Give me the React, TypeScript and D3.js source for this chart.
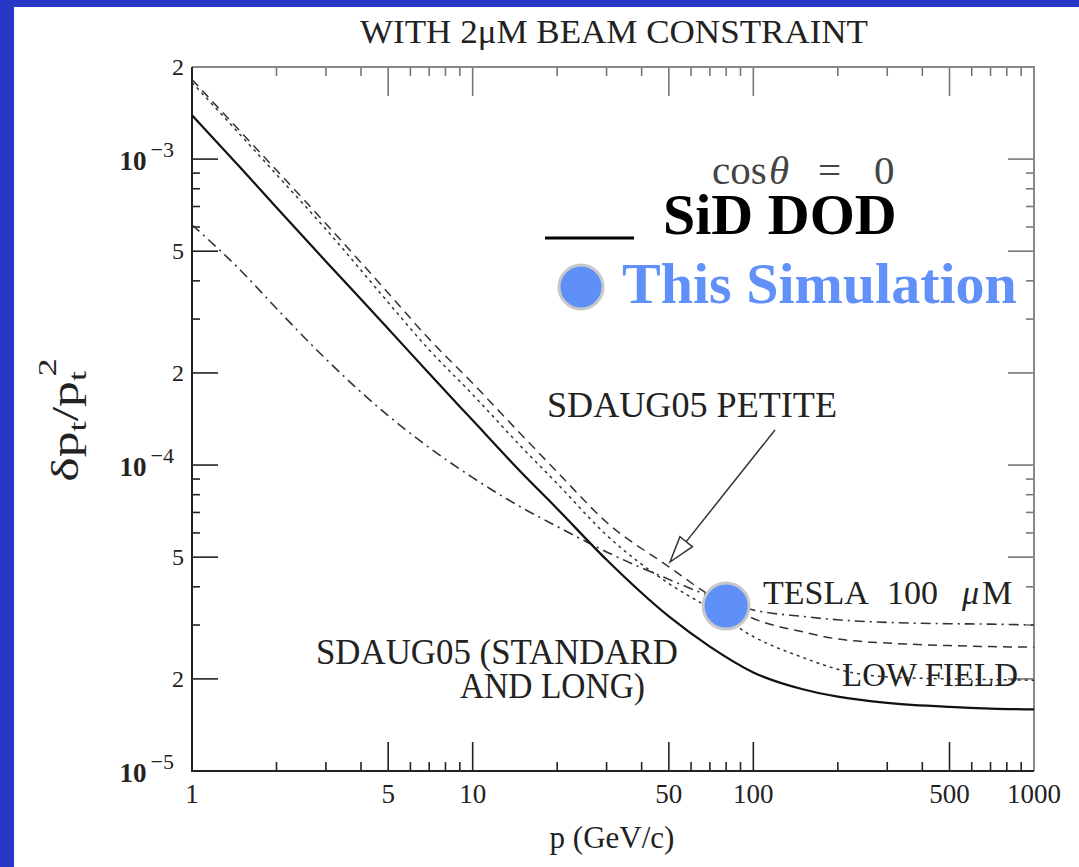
import { useEffect, useRef } from 'react';
import * as d3 from 'd3';

// momentum grid (GeV/c) that all curves were read on
const pGrid = [1, 1.5, 2, 3, 5, 7, 10, 15, 20, 30, 50, 70, 100, 150, 200, 300, 500, 700, 1000];

// dpt/pt^2
const standardRes = [1.39e-3, 9.3e-4, 6.95e-4, 4.63e-4, 2.79e-4, 1.99e-4, 1.4e-4, 9.4e-5, 7.2e-5, 4.9e-5, 3.2e-5, 2.55e-5, 2.1e-5, 1.85e-5, 1.75e-5, 1.67e-5, 1.62e-5, 1.6e-5, 1.59e-5];
const petiteRes = [1.82e-3, 1.22e-3, 9.2e-4, 6.15e-4, 3.65e-4, 2.58e-4, 1.85e-4, 1.25e-4, 9.5e-5, 6.5e-5, 4.65e-5, 3.75e-5, 3.15e-5, 2.85e-5, 2.7e-5, 2.62e-5, 2.57e-5, 2.55e-5, 2.54e-5];
const lowFieldRes = [1.78e-3, 1.19e-3, 8.9e-4, 5.9e-4, 3.4e-4, 2.38e-4, 1.7e-4, 1.14e-4, 8.7e-5, 5.9e-5, 4.1e-5, 3.4e-5, 2.75e-5, 2.35e-5, 2.15e-5, 2.03e-5, 2.0e-5, 1.99e-5, 1.98e-5];
const teslaRes = [6.1e-4, 4.3e-4, 3.25e-4, 2.22e-4, 1.45e-4, 1.14e-4, 9.1e-5, 7.25e-5, 6.3e-5, 5.2e-5, 4.23e-5, 3.73e-5, 3.36e-5, 3.2e-5, 3.12e-5, 3.06e-5, 3.03e-5, 3.02e-5, 3.0e-5];

// this simulation
const simP = [80];
const simRes = [3.46e-5];

// axis labels
const xTickValues = [1, 5, 10, 50, 100, 500, 1000];
const xTickLabels = ['1', '5', '10', '50', '100', '500', '1000'];
const yTickValues = [2e-3, 1e-3, 5e-4, 2e-4, 1e-4, 5e-5, 2e-5, 1e-5];
const yTickMant = ['2', '10', '5', '2', '10', '5', '2', '10'];
const yTickExp = ['', '−3', '', '', '−4', '', '', '−5'];

const serif = '"Liberation Serif", "DejaVu Serif", serif';

export default function App() {
  const svgRef = useRef<SVGSVGElement>(null);

  useEffect(() => {
    const svg = d3.select(svgRef.current);
    svg.selectAll('*').remove();

    const W = 1079;
    const H = 867;
    const left = 192, right = 1034, top = 67, bottom = 771;

    // slide background
    svg.append('rect').attr('width', W).attr('height', H).attr('fill', '#2737c6');
    svg.append('rect').attr('x', 14).attr('y', 7).attr('width', W - 14).attr('height', H - 7).attr('fill', '#fff');

    const x = d3.scaleLog().domain([1, 1000]).range([left, right]);
    const y = d3.scaleLog().domain([1e-5, 2e-3]).range([bottom, top]);

    // ticks
    const xMinor: number[] = [];
    [1, 10, 100].forEach((d) => d3.range(1, 10).forEach((k) => xMinor.push(k * d)));
    xMinor.push(1000);
    const yMinor: number[] = [];
    [1e-5, 1e-4, 1e-3].forEach((d) => d3.range(1, 10).forEach((k) => yMinor.push(k * d)));
    const yTicks = yMinor.filter((v) => v <= 2.0001e-3);

    const lead = (v: number) => Math.round(v / Math.pow(10, Math.floor(Math.log10(v) + 1e-9)));

    const tg = svg.append('g').attr('stroke-width', 1.6);
    xMinor.forEach((v) => {
      const k = lead(v);
      const len = k === 1 || k === 5 ? 29 : 9;
      tg.append('line').attr('x1', x(v)).attr('x2', x(v)).attr('y1', bottom).attr('y2', bottom - len).attr('stroke', '#222');
      tg.append('line').attr('x1', x(v)).attr('x2', x(v)).attr('y1', top).attr('y2', top + len).attr('stroke', '#777');
    });
    yTicks.forEach((v) => {
      const k = lead(v);
      const len = k === 1 || k === 2 || k === 5 ? 26 : 8;
      tg.append('line').attr('x1', left).attr('x2', left + len).attr('y1', y(v)).attr('y2', y(v)).attr('stroke', '#222');
      tg.append('line').attr('x1', right).attr('x2', right - len).attr('y1', y(v)).attr('y2', y(v)).attr('stroke', '#777');
    });

    // frame
    svg.append('path').attr('d', `M${left},${top}H${right}V${bottom}`).attr('fill', 'none').attr('stroke', '#888').attr('stroke-width', 2);
    svg.append('path').attr('d', `M${left},${top}V${bottom}H${right}`).attr('fill', 'none').attr('stroke', '#222').attr('stroke-width', 2);

    // tick labels
    svg.append('g').selectAll('text').data(xTickValues).enter().append('text')
      .attr('x', (d) => x(d)).attr('y', 803).attr('text-anchor', 'middle')
      .attr('font-family', serif).attr('font-size', 27).attr('fill', '#222')
      .text((_, i) => xTickLabels[i]);

    yTickValues.forEach((v, i) => {
      const t = svg.append('text').attr('font-family', serif).attr('fill', '#222').attr('text-anchor', 'end');
      if (yTickExp[i]) {
        t.attr('x', 174).attr('y', y(v) + 11).attr('font-size', 27);
        t.append('tspan').attr('font-weight', 'bold').text(yTickMant[i]);
        t.append('tspan').attr('font-size', 22).attr('dy', -13).attr('dx', 4).text(yTickExp[i]);
      } else {
        t.attr('x', 184).attr('y', y(v) + 8).attr('font-size', 24).text(yTickMant[i]);
      }
    });

    // curves
    const line = d3.line<number>()
      .x((_, i) => x(pGrid[i]))
      .y((d) => y(d))
      .curve(d3.curveMonotoneX);

    const plot = svg.append('g').attr('fill', 'none');
    plot.append('path').attr('d', line(teslaRes)).attr('stroke', '#333').attr('stroke-width', 1.6).attr('stroke-dasharray', '10,5,2,5');
    plot.append('path').attr('d', line(lowFieldRes)).attr('stroke', '#333').attr('stroke-width', 1.5).attr('stroke-dasharray', '3,4');
    plot.append('path').attr('d', line(petiteRes)).attr('stroke', '#333').attr('stroke-width', 1.5).attr('stroke-dasharray', '9,6');
    plot.append('path').attr('d', line(standardRes)).attr('stroke', '#111').attr('stroke-width', 2.2);

    // simulation point
    svg.append('g').selectAll('circle').data(simP).enter().append('circle')
      .attr('cx', (d) => x(d)).attr('cy', (_, i) => y(simRes[i])).attr('r', 23)
      .attr('fill', '#5f8ff8').attr('stroke', '#c8c8c8').attr('stroke-width', 3);

    // annotations
    const label = (txt: string, xx: number, yy: number, size: number, len: number) =>
      svg.append('text').attr('x', xx).attr('y', yy).attr('font-family', serif)
        .attr('font-size', size).attr('fill', '#222').attr('textLength', len)
        .attr('lengthAdjust', 'spacingAndGlyphs').text(txt);

    label('WITH 2μM BEAM CONSTRAINT', 360, 43, 34, 508);
    label('SDAUG05 PETITE', 547, 417, 35, 290);
    label('SDAUG05 (STANDARD', 316, 664, 35, 362);
    label('AND LONG)', 460, 698, 35, 185);
    label('LOW FIELD', 842, 686, 34, 176);

    const tesla = svg.append('text').attr('y', 604).attr('font-family', serif).attr('font-size', 34).attr('fill', '#222');
    tesla.append('tspan').attr('x', 763).text('TESLA');
    tesla.append('tspan').attr('x', 887).text('100');
    tesla.append('tspan').attr('x', 962).attr('font-style', 'italic').text('μ');
    tesla.append('tspan').attr('x', 982).text('M');

    // arrow to PETITE curve
    const ax0 = 775, ay0 = 430, ax1 = 670, ay1 = 562;
    const ang = Math.atan2(ay1 - ay0, ax1 - ax0);
    const hl = 26, hw = 8;
    const bx = ax1 - hl * Math.cos(ang), by = ay1 - hl * Math.sin(ang);
    svg.append('line').attr('x1', ax0).attr('y1', ay0).attr('x2', bx).attr('y2', by).attr('stroke', '#333').attr('stroke-width', 1.5);
    svg.append('path')
      .attr('d', `M${ax1},${ay1}L${bx + hw * Math.sin(ang)},${by - hw * Math.cos(ang)}L${bx - hw * Math.sin(ang)},${by + hw * Math.cos(ang)}Z`)
      .attr('fill', '#fff').attr('stroke', '#333').attr('stroke-width', 1.5);

    // cos theta = 0
    const cos = svg.append('text').attr('y', 184).attr('font-family', serif).attr('font-size', 41).attr('fill', '#444');
    cos.append('tspan').attr('x', 712).text('cos');
    cos.append('tspan').attr('x', 769).attr('font-style', 'italic').text('θ');
    cos.append('tspan').attr('x', 818).text('=');
    cos.append('tspan').attr('x', 874).text('0');

    // legend
    svg.append('line').attr('x1', 545).attr('x2', 634).attr('y1', 238).attr('y2', 238).attr('stroke', '#000').attr('stroke-width', 3);
    svg.append('text').attr('x', 663).attr('y', 234).attr('font-family', serif).attr('font-weight', 'bold')
      .attr('font-size', 58).attr('fill', '#000').text('SiD DOD');
    svg.append('circle').attr('cx', 581).attr('cy', 287).attr('r', 22)
      .attr('fill', '#5f8ff8').attr('stroke', '#c8c8c8').attr('stroke-width', 3);
    svg.append('text').attr('x', 622).attr('y', 303).attr('font-family', serif).attr('font-weight', 'bold')
      .attr('font-size', 58).attr('fill', '#6090f8').text('This Simulation');

    // axis titles
    const yl = svg.append('text').attr('transform', 'translate(78,420) rotate(-90) scale(1.4,1)').attr('text-anchor', 'middle')
      .attr('font-family', serif).attr('font-size', 37).attr('fill', '#222');
    yl.append('tspan').text('δp');
    yl.append('tspan').attr('font-size', 26).attr('dy', 8).text('t');
    yl.append('tspan').attr('dy', -8).text('/p');
    yl.append('tspan').attr('font-size', 26).attr('dy', 8).text('t');
    yl.append('tspan').attr('font-size', 26).attr('dy', -30).attr('dx', -4).text('2');

    svg.append('text').attr('x', 612).attr('y', 848).attr('text-anchor', 'middle').attr('font-family', serif)
      .attr('font-size', 31).attr('fill', '#222').text('p (GeV/c)');
  }, []);

  return (
    <svg ref={svgRef} width={1079} height={867} style={{ position: 'absolute', left: 0, top: 0, display: 'block' }} />
  );
}
